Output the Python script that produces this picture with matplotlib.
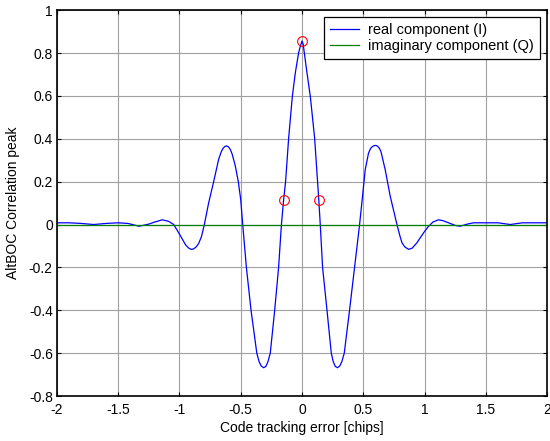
#!/usr/bin/env python3

import matplotlib
matplotlib.use('Agg')
import matplotlib.pyplot as plt

plt.rcParams['font.family'] = ['Liberation Sans', 'DejaVu Sans']

# code delay [chips] and real part of the AltBOC correlation
tau = [-2.00, -1.90, -1.80, -1.70, -1.60, -1.50, -1.42, -1.33, -1.25, -1.20,
       -1.14, -1.09, -1.047, -1.00, -0.95, -0.925, -0.905, -0.885, -0.865, -0.843,
       -0.82, -0.797, -0.762, -0.721, -0.68, -0.66, -0.645, -0.63, -0.617, -0.60,
       -0.585, -0.571, -0.545, -0.52, -0.50, -0.484, -0.454, -0.416, -0.369, -0.35,
       -0.333, -0.313, -0.295, -0.278, -0.259, -0.223, -0.191, -0.168, -0.15, -0.134,
       -0.109, -0.079, -0.055, -0.028, -0.012, 0.0, 0.01, 0.019, 0.041, 0.068,
       0.103, 0.127, 0.137, 0.149, 0.168, 0.204, 0.239, 0.255, 0.272, 0.29,
       0.308, 0.325, 0.345, 0.388, 0.429, 0.47, 0.494, 0.516, 0.543, 0.56,
       0.575, 0.59, 0.603, 0.615, 0.63, 0.644, 0.679, 0.72, 0.775, 0.80,
       0.816, 0.84, 0.87, 0.90, 0.938, 0.992, 1.03, 1.07, 1.114, 1.15,
       1.196, 1.25, 1.29, 1.35, 1.40, 1.50, 1.60, 1.70, 1.80, 1.90,
       2.00]
real_I = [0.008, 0.008, 0.005, 0.000, 0.005, 0.008, 0.005, -0.008, 0.002, 0.012,
          0.022, 0.015, 0.000, -0.045, -0.095, -0.110, -0.116, -0.114, -0.105, -0.088,
          -0.055, 0.000, 0.101, 0.200, 0.305, 0.338, 0.355, 0.364, 0.367, 0.362,
          0.350, 0.330, 0.275, 0.200, 0.115, 0.000, -0.200, -0.400, -0.600, -0.640,
          -0.660, -0.668, -0.662, -0.640, -0.600, -0.400, -0.200, 0.000, 0.115, 0.200,
          0.403, 0.597, 0.706, 0.800, 0.835, 0.856, 0.840, 0.800, 0.706, 0.597,
          0.403, 0.200, 0.115, 0.000, -0.200, -0.400, -0.600, -0.640, -0.662, -0.668,
          -0.660, -0.640, -0.600, -0.400, -0.200, 0.000, 0.132, 0.256, 0.333, 0.355,
          0.364, 0.368, 0.369, 0.366, 0.357, 0.341, 0.256, 0.132, 0.000, -0.055,
          -0.085, -0.105, -0.116, -0.110, -0.085, -0.039, -0.010, 0.012, 0.022, 0.018,
          0.008, -0.004, -0.008, 0.002, 0.008, 0.008, 0.008, 0.000, 0.008, 0.008,
          0.008]

# imaginary part is zero everywhere
tau_Q = [-2.0, 2.0]
imag_Q = [0.0, 0.0]

# early / prompt / late samples
epl_tau = [-0.147, 0.0, 0.139]
epl_val = [0.115, 0.856, 0.115]

fig = plt.figure(figsize=(5.5, 4.41), dpi=100)
ax = fig.add_axes([0.1036, 0.102, 0.891, 0.875])

ax.plot(tau, real_I, color=(0, 0, 1), lw=0.9, label='real component (I)')
ax.plot(tau_Q, imag_Q, color=(0, 0.5, 0), lw=0.9, label='imaginary component (Q)')
ax.plot(epl_tau, epl_val, 'o', mfc='none', mec='red', ms=7, mew=0.8)

ax.set_xlim(-2, 2)
ax.set_ylim(-0.8, 1)
ax.set_xticks([-2, -1.5, -1, -0.5, 0, 0.5, 1, 1.5, 2])
ax.set_xticklabels(['-2', '-1.5', '-1', '-0.5', '0', '0.5', '1', '1.5', '2'])
ax.set_yticks([-0.8, -0.6, -0.4, -0.2, 0, 0.2, 0.4, 0.6, 0.8, 1])
ax.set_yticklabels(['-0.8', '-0.6', '-0.4', '-0.2', '0', '0.2', '0.4', '0.6', '0.8', '1'])
ax.grid(True, color='#a0a0a0', lw=0.8)
ax.set_axisbelow(True)
ax.tick_params(direction='in', length=3, width=0.8, top=True, right=True,
               labelsize=10, colors='black')
ax.tick_params(axis='x', pad=5)
ax.tick_params(axis='y', pad=3)
for s in ax.spines.values():
  s.set_linewidth(1.2)

ax.set_xlabel('Code tracking error [chips]', fontsize=10, labelpad=3)
ax.set_ylabel('AltBOC Correlation peak', fontsize=10, labelpad=6)

leg = ax.legend(loc='upper right', fontsize=10.5, fancybox=False, framealpha=1,
                edgecolor='black', borderaxespad=0.5, handlelength=2.0,
                handletextpad=0.6, borderpad=0.4, labelspacing=0.15)
leg.get_frame().set_linewidth(0.9)

fig.savefig('out.png', dpi=100)
